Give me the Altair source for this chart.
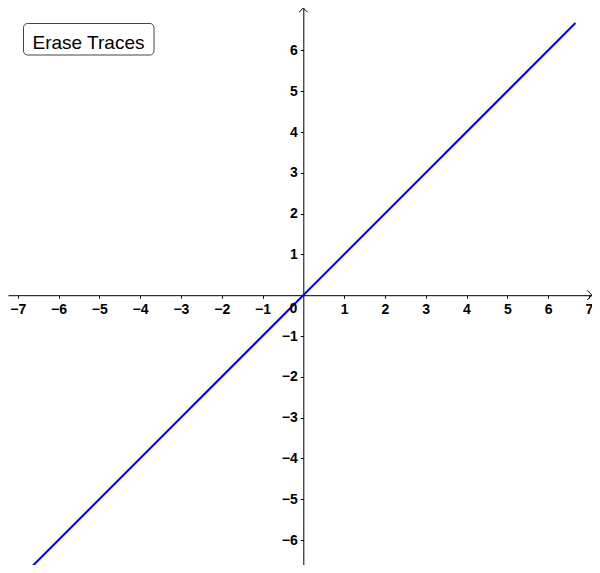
import altair as alt
import pandas as pd

# ---- data ----
line_x = [-6.67, 6.67]
line_y = [-6.67, 6.67]
x_ticks = [-7, -6, -5, -4, -3, -2, -1, 1, 2, 3, 4, 5, 6, 7]
y_ticks = [-6, -5, -4, -3, -2, -1, 1, 2, 3, 4, 5, 6]
origin_label = ["0"]
button_label = ["Erase Traces"]

# ---- geometry ----
W, H = 584, 557
UNIT = 40.8
OX, OY = 295.3, 287.2  # origin position inside plot area (px)
x_dom = [-OX / UNIT, (W - OX) / UNIT]
y_dom = [-(H - OY) / UNIT, OY / UNIT]

xs = alt.Scale(domain=x_dom, nice=False, zero=False)
ys = alt.Scale(domain=y_dom, nice=False, zero=False)

FONT = "Liberation Sans"

common = dict(title=None, grid=False, tickSize=3, domainColor="black",
              tickColor="black", labelColor="black", labelFont=FONT, labelFontSize=14,
              labelFontWeight="bold",
              labelFlush=False, labelOverlap=False, domainWidth=1, tickWidth=1)
x_axis = alt.Axis(orient="bottom", offset=-(H - OY), values=x_ticks, labelPadding=4, **common)
y_axis = alt.Axis(orient="left", offset=-OX, values=y_ticks, labelPadding=3, **common)

X = lambda: alt.X("x:Q", scale=xs, axis=x_axis)
Y = lambda: alt.Y("y:Q", scale=ys, axis=y_axis)

line_df = pd.DataFrame({"x": line_x, "y": line_y})
line = alt.Chart(line_df).mark_line(color="#0000e6", strokeWidth=2, clip=True).encode(
    x=X(), y=Y()
)

# arrowheads at the axis ends
arrow_right_df = pd.DataFrame({"x": [x_dom[1]], "y": [0]})
arrow_top_df = pd.DataFrame({"x": [0], "y": [y_dom[1]]})

arrow_right = alt.Chart(arrow_right_df).mark_point(
    shape="M-1,-1L0,0L-1,1", size=90, filled=False, stroke="black", strokeWidth=1, opacity=1
).encode(x=X(), y=Y())

arrow_top = alt.Chart(arrow_top_df).mark_point(
    shape="M-1,1L0,0L1,1", size=70, filled=False, stroke="black", strokeWidth=1, opacity=1
).encode(x=X(), y=Y())

origin_df = pd.DataFrame({"x": [0], "y": [0], "t": origin_label})
origin = alt.Chart(origin_df).mark_text(
    align="right", baseline="top", dx=-6, dy=7, font=FONT, fontSize=14,
    fontWeight="bold", color="black"
).encode(x=X(), y=Y(), text="t:N")

btn_df = pd.DataFrame({"t": button_label})
button_box = alt.Chart(btn_df).mark_rect(
    fill="white", stroke="#444444", strokeWidth=1, cornerRadius=4
).encode(
    x=alt.value(15.5), x2=alt.value(146), y=alt.value(15.5), y2=alt.value(47)
)
button_text = alt.Chart(btn_df).mark_text(
    align="center", baseline="alphabetic", font=FONT, fontSize=19, color="black"
).encode(
    x=alt.value(80.5), y=alt.value(41), text="t:N"
)

chart = alt.layer(line, arrow_right, arrow_top, origin, button_box, button_text).properties(
    width=W, height=H, padding=0, autosize=alt.AutoSizeParams(type="none"),
    background="white",
).configure_view(stroke=None)

chart.save("out.html", embed_options={"renderer": "svg", "actions": False})
